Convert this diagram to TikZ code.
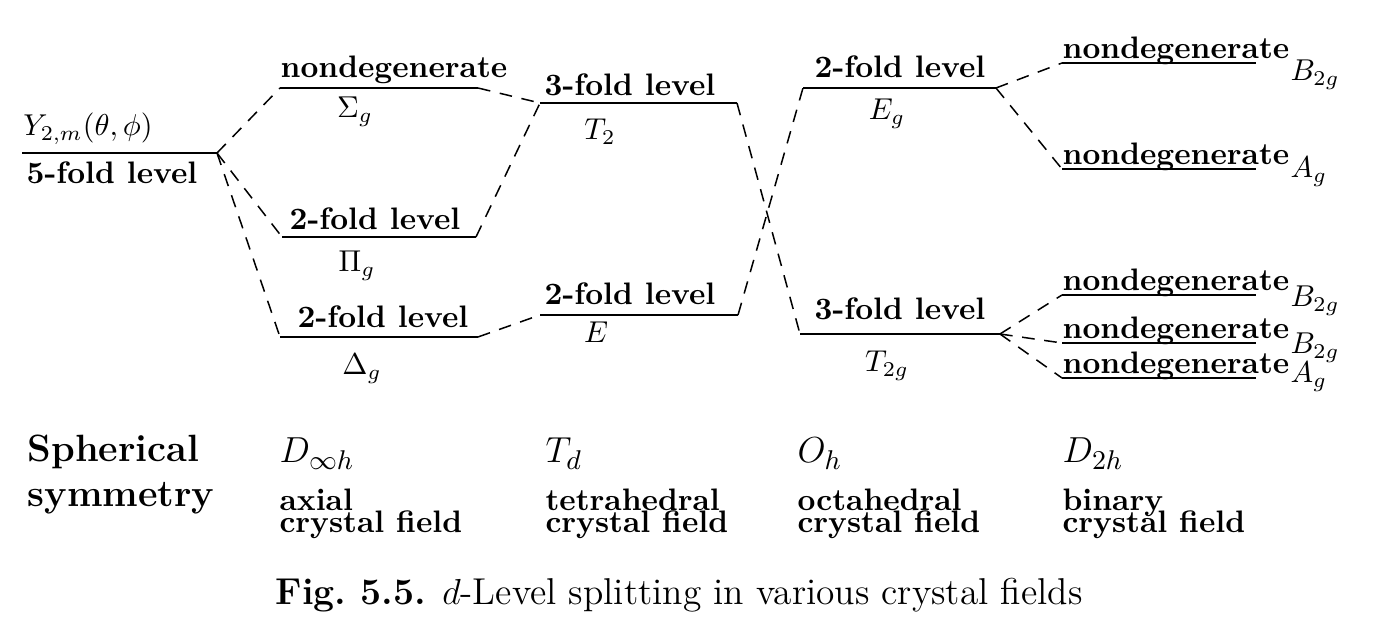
\documentclass[tikz,border=0pt]{standalone}
\newcommand\normsz{\fontsize{10.3}{12}\selectfont}
\newcommand\bigsz{\fontsize{12.6}{15}\selectfont}
\tikzset{
  levelline/.style={line width=0.7pt},
  split/.style={line width=0.5pt,dash pattern=on 4.2pt off 3.2pt},
  lbl/.style={font=\normsz\bfseries,anchor=base,inner sep=0pt},
  sym/.style={font=\normsz,anchor=base,inner sep=0pt},
}
\begin{document}
\begin{tikzpicture}[x=0.3316pt,y=-0.3316pt]
\useasboundingbox (0,0) rectangle (1386,639);

% spherical 5-fold level
\coordinate (Y-l) at (22,153);
\coordinate (Y-r) at (217,153);
\draw[levelline] (Y-l) -- (Y-r);
\node[sym] (Y-t) at (88,136) {$Y_{2,m}(\theta,\phi)$};
\node[lbl] (Y-b) at (112,184) {5-fold level};

% levels of D_inf_h, T_d and O_h
\foreach \n/\xa/\xb/\y in {S/280/478/88, P/282/476/237, D/280/478/337,
    T/540/737/103, E/540/738/315, Eg/803/996/88, Tg/800/1000/334}
{
  \coordinate (\n-l) at (\xa,\y);
  \coordinate (\n-r) at (\xb,\y);
  \draw[levelline] (\n-l) -- (\n-r);
}
\node[lbl] (S-t) at (394,78) {nondegenerate};
\node[sym] (S-b) at (355,118) {$\Sigma_g$};
\node[lbl] (P-t) at (375,230) {2-fold level};
\node[sym] (P-b) at (357,272) {$\Pi_g$};
\node[lbl] (D-t) at (383,328) {2-fold level};
\node[sym] (D-b) at (362,375) {$\Delta_g$};
\node[lbl] (T-t) at (630,96) {3-fold level};
\node[sym] (T-b) at (600,140) {$T_2$};
\node[lbl] (E-t) at (630,305) {2-fold level};
\node[sym] (E-b) at (596,343) {$E$};
\node[lbl] (Eg-t) at (900,78) {2-fold level};
\node[sym] (Eg-b) at (887,120) {$E_g$};
\node[lbl] (Tg-t) at (900,320) {3-fold level};
\node[sym] (Tg-b) at (887,372) {$T_{2g}$};

% nondegenerate levels of D_2h
\foreach \i/\y/\s/\dy in {1/63/B_{2g}/18, 2/169/A_g/9, 3/295/B_{2g}/12,
    4/343/B_{2g}/11, 5/378/A_g/5}
{
  \coordinate (B\i-l) at (1062,\y);
  \coordinate (B\i-r) at (1256,\y);
  \draw[levelline] (B\i-l) -- (B\i-r);
  \node[lbl] (B\i-t) at (1176,\y-4) {nondegenerate};
  \node[sym,anchor=base west] (B\i-s) at (1290,\y+\dy) {$\s$};
}

% splitting
\draw[split] (Y-r) -- (S-l);
\draw[split] (Y-r) -- (P-l);
\draw[split] (Y-r) -- (D-l);
\draw[split] (S-r) -- (T-l);
\draw[split] (P-r) -- (T-l);
\draw[split] (D-r) -- (E-l);
\draw[split] (T-r) -- (Tg-l);
\draw[split] (E-r) -- (Eg-l);
\draw[split] (Eg-r) -- (B1-l);
\draw[split] (Eg-r) -- (B2-l);
\draw[split] (Tg-r) -- (B3-l);
\draw[split] (Tg-r) -- (B4-l);
\draw[split] (Tg-r) -- (B5-l);

% symmetry row
\node[lbl,anchor=base west,font=\bigsz\bfseries] (sph) at (27,462) {Spherical};
\node[lbl,anchor=base west,font=\bigsz\bfseries] (symm) at (27,507) {symmetry};
\foreach \n/\x/\g/\a in {ax/279/D_{\infty h}/axial, td/545/T_d/tetrahedral,
    oh/797/O_h/octahedral, dh/1062/D_{2h}/binary}
{
  \node[sym,anchor=base west,font=\bigsz] (\n-g) at (\x,463) {$\g$};
  \node[lbl,anchor=north west,align=left] (\n-a) at (\x,488)
    {\a\\[-4.6pt]crystal field};
}

% caption
\node[sym,anchor=base west,font=\fontsize{12.4}{15}\selectfont] (cap) at (275,605)
  {\textbf{Fig.\ 5.5.} $d$-Level splitting in various crystal fields};
\end{tikzpicture}
\end{document}
